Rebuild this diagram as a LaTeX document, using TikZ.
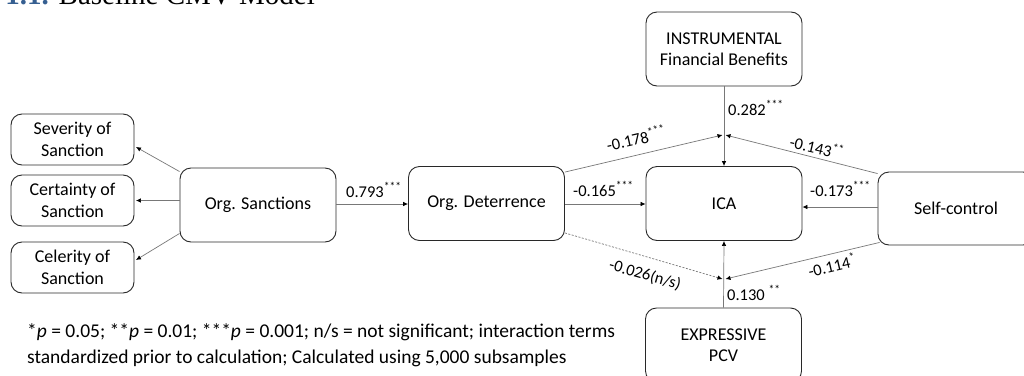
\documentclass[tikz,border=0pt]{standalone}
\usepackage{fontspec}
\setmainfont{Carlito}
\newfontfamily\headfont{Liberation Serif}
\usetikzlibrary{arrows.meta,calc}
\definecolor{headblue}{RGB}{54,95,145}
\definecolor{linegray}{RGB}{120,120,120}
\definecolor{boxline}{RGB}{40,40,40}

\begin{document}
\begin{tikzpicture}[x=1pt,y=-1pt,
  box/.style={draw=boxline, line width=0.9pt, rounded corners=11pt,
    align=center, inner sep=0pt, font=\fontsize{18}{21.5}\selectfont},
  widebox/.style={box, minimum width=156pt, minimum height=74pt},
  smallbox/.style={box, minimum width=123pt, minimum height=51pt},
  conn/.style={draw=linegray, line width=0.7pt,
    -{Latex[length=5pt,width=4.5pt,color=black]}},
  weak/.style={conn, dash pattern=on 2pt off 1.5pt},
  coef/.style={font=\fontsize{16.5}{19}\selectfont, inner sep=0pt},
  note/.style={font=\fontsize{19.5}{23}\selectfont, inner sep=0pt, anchor=base west},
]
\clip (0,0) rectangle (1024,375);
\fill[white] (0,0) rectangle (1024,375);

% heading, mostly above the visible area
\node[anchor=base east, inner sep=0pt, font=\headfont\fontsize{29}{34}\selectfont]
  (heading) at (315,4.5) {\textcolor{headblue}{\textbf{1.1.}} Baseline CMV Model};

% constructs
\node[smallbox] (sev)  at (72.5,139.5) {Severity of\\Sanction};
\node[smallbox] (cert) at (72.5,200.5) {Certainty of\\Sanction};
\node[smallbox] (cel)  at (72.5,267.5) {Celerity of\\Sanction};
\node[widebox]  (sanc) at (258,205)    {Org. Sanctions};
\node[widebox]  (det)  at (486.5,203.5){Org. Deterrence};
\node[widebox]  (ica)  at (724,203.5)  {ICA};
\node[widebox]  (instr) at (724,49)    {INSTRUMENTAL\\Financial Benefits};
\node[widebox]  (expr) at (723.5,345)  {EXPRESSIVE\\PCV};
\node[widebox, minimum height=73pt] (self) at (956,208.5) {Self-control};

% interaction points
\coordinate (top) at (724,135);
\coordinate (bot) at (724,279);

% measurement paths
\draw[conn] ($(sanc.north west)+(0,4)$) -- ($(sev.east)+(1.5,7.5)$);
\draw[conn] (sanc.west |- cert.east) -- ($(cert.east)+(1.5,0)$);
\draw[conn] ($(sanc.south west)+(0,-9)$) -- ($(cel.east)+(1.5,-7.5)$);

% structural paths
\draw[conn] (sanc.east |- 0,204) -- (det.west |- 0,204);
\draw[conn] (det.east |- 0,204) -- (ica.west |- 0,204);
\draw[conn] (self.west |- 0,207) -- (ica.east |- 0,207);
\draw[conn] (instr.south) -- (ica.north);
\draw[conn] (expr.north) -- (ica.south);

% moderating paths
\draw[conn] ($(det.north east)+(0,6)$) -- ($(top)+(-1.5,0)$);
\draw[conn] ($(self.north west)+(0,2)$) -- ($(top)+(1.5,0)$);
\draw[weak] ($(det.south east)+(0,-8)$) -- ($(bot)+(-1.5,0)$);
\draw[conn] ($(self.south west)+(2,-3)$) -- ($(bot)+(1.5,0)$);

% coefficients
\node[coef, anchor=base west] (c1) at (346,197) {0.793\textsuperscript{***}};
\node[coef, anchor=base west] (c2) at (728,115) {0.282\textsuperscript{***}};
\node[coef, anchor=base west] (c3) at (573,196) {-0.165\textsuperscript{***}};
\node[coef, anchor=base west] (c4) at (810,196) {-0.173\textsuperscript{***}};
\node[coef, anchor=base west] (c5) at (727,300) {0.130 \textsuperscript{**}};
\node[coef, rotate=13]  (c6) at (636,138) {-0.178\textsuperscript{***}};
\node[coef, rotate=-13] (c7) at (817,147) {-0.143\textsuperscript{**}};
\node[coef, rotate=-16] (c8) at (645,275) {-0.026(n/s)};
\node[coef, rotate=13]  (c9) at (832,265) {-0.114\textsuperscript{*}};

% legend
\node[note] (n1) at (27,337) {*\textit{p} = 0.05; **\textit{p} = 0.01; ***\textit{p} = 0.001; n/s = not significant; interaction terms};
\node[note] (n2) at (27,363) {standardized prior to calculation; Calculated using 5,000 subsamples};
\end{tikzpicture}
\end{document}
